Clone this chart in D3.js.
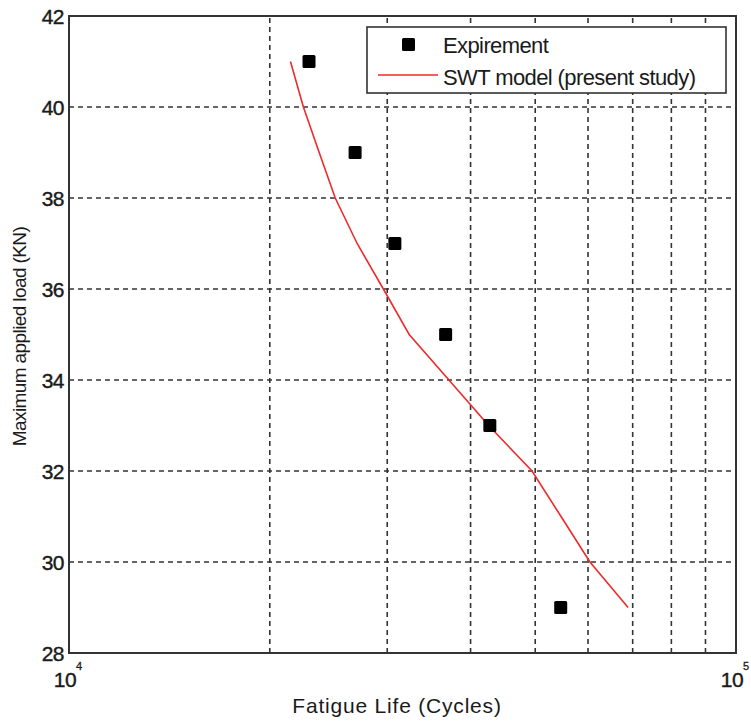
<!DOCTYPE html>
<html>
<head>
<meta charset="utf-8">
<script src="https://cdnjs.cloudflare.com/ajax/libs/d3/7.8.5/d3.min.js"></script>
<style>
  body { margin: 0; background: #fff; }
  text { font-family: "Liberation Sans", Arial, sans-serif; fill: #1a1a1a; }
</style>
</head>
<body>
<svg id="chart" width="751" height="723"></svg>
<script>
// experiment points
var expCycles = [22900, 26850, 30800, 36700, 42750, 54600];
var expLoad   = [41, 39, 37, 35, 33, 29];
// SWT model curve
var swtCycles = [21480, 22460, 23720, 25070, 27040, 29600, 32360, 37120, 42580, 49450, 54660, 60400, 68900];
var swtLoad   = [41, 40, 39, 38, 37, 36, 35, 34, 33, 32, 31, 30, 29];
var yTicks = [28, 30, 32, 34, 36, 38, 40, 42];
var xGrid = [20000, 30000, 40000, 50000, 60000, 70000, 80000, 90000];
var xLabels = [{v: 1e4, e: "4"}, {v: 1e5, e: "5"}];

var margin = {left: 69, right: 15, top: 16, bottom: 70};
var width = 751, height = 723;
var svg = d3.select('#chart');

var x = d3.scaleLog().domain([1e4, 1e5]).range([margin.left, width - margin.right]);
var y = d3.scaleLinear().domain([28, 42]).range([height - margin.bottom, margin.top]);

// grid
var grid = svg.append("g").attr("class", "grid")
	.attr("stroke", "#333").attr("stroke-width", 1.6).attr("stroke-dasharray", "5,4");
grid.selectAll(".gx").data(xGrid).enter().append("line")
	.attr("x1", function(d) { return x(d); }).attr("x2", function(d) { return x(d); })
	.attr("y1", y(28)).attr("y2", y(42));
grid.selectAll(".gy").data(yTicks.slice(1, -1)).enter().append("line")
	.attr("y1", function(d) { return y(d); }).attr("y2", function(d) { return y(d); })
	.attr("x1", x(1e4)).attr("x2", x(1e5));

// frame
svg.append("rect")
	.attr("x", x(1e4)).attr("y", y(42))
	.attr("width", x(1e5) - x(1e4)).attr("height", y(28) - y(42))
	.attr("fill", "none").attr("stroke", "#333").attr("stroke-width", 2);

// y tick labels
svg.append("g").selectAll("text").data(yTicks).enter().append("text")
	.attr("x", margin.left - 5).attr("y", function(d) { return y(d); })
	.attr("dy", "0.36em").attr("text-anchor", "end")
	.attr("font-size", 21).attr("letter-spacing", -0.5)
	.attr("stroke", "#1a1a1a").attr("stroke-width", 0.4)
	.text(function(d) { return d; });

// x tick labels (10^n)
var xl = svg.append("g").selectAll("g").data(xLabels).enter().append("g");
xl.append("text")
	.attr("x", function(d) { return x(d.v) - 4; }).attr("y", y(28) + 34)
	.attr("text-anchor", "middle").attr("font-size", 21).attr("letter-spacing", -0.5)
	.attr("stroke", "#1a1a1a").attr("stroke-width", 0.4)
	.text("10");
xl.append("text")
	.attr("x", function(d) { return x(d.v) + 7; }).attr("y", y(28) + 17)
	.attr("font-size", 11).attr("stroke", "#1a1a1a").attr("stroke-width", 0.3)
	.text(function(d) { return d.e; });

// axis titles
svg.append("text")
	.attr("x", 397).attr("y", 713)
	.attr("text-anchor", "middle").attr("font-size", 21).attr("letter-spacing", 0.8)
	.text("Fatigue Life (Cycles)");
svg.append("text")
	.attr("transform", "translate(26," + ((y(28) + y(42)) / 2 + 2) + ") rotate(-90)")
	.attr("text-anchor", "middle").attr("font-size", 19).attr("letter-spacing", -0.6)
	.text("Maximum applied load (KN)");

// SWT line
var swt = swtCycles.map(function(c, i) { return [c, swtLoad[i]]; });
var line = d3.line()
	.x(function(d) { return x(d[0]); })
	.y(function(d) { return y(d[1]); });
svg.append("path").datum(swt)
	.attr("d", line).attr("fill", "none")
	.attr("stroke", "#ee2a2a").attr("stroke-width", 1.6);

// experiment markers
var exp = expCycles.map(function(c, i) { return [c, expLoad[i]]; });
svg.append("g").selectAll("rect").data(exp).enter().append("rect")
	.attr("x", function(d) { return x(d[0]) - 6.5; })
	.attr("y", function(d) { return y(d[1]) - 6.5; })
	.attr("width", 13).attr("height", 13).attr("rx", 1.5)
	.attr("fill", "#000");

// legend
var lg = svg.append("g");
lg.append("rect").attr("x", 367).attr("y", 27).attr("width", 359).attr("height", 66)
	.attr("fill", "#fff").attr("stroke", "#333").attr("stroke-width", 1.6);
lg.append("rect").attr("x", 402).attr("y", 38).attr("width", 13).attr("height", 13)
	.attr("rx", 1.5).attr("fill", "#000");
lg.append("text").attr("x", 443).attr("y", 53).attr("font-size", 22).attr("letter-spacing", -0.6)
	.text("Expirement");
lg.append("line").attr("x1", 378).attr("x2", 438).attr("y1", 75).attr("y2", 75)
	.attr("stroke", "#ee2a2a").attr("stroke-width", 1.6);
lg.append("text").attr("x", 443).attr("y", 85).attr("font-size", 22).attr("letter-spacing", -0.6)
	.text("SWT model (present study)");
</script>
</body>
</html>
